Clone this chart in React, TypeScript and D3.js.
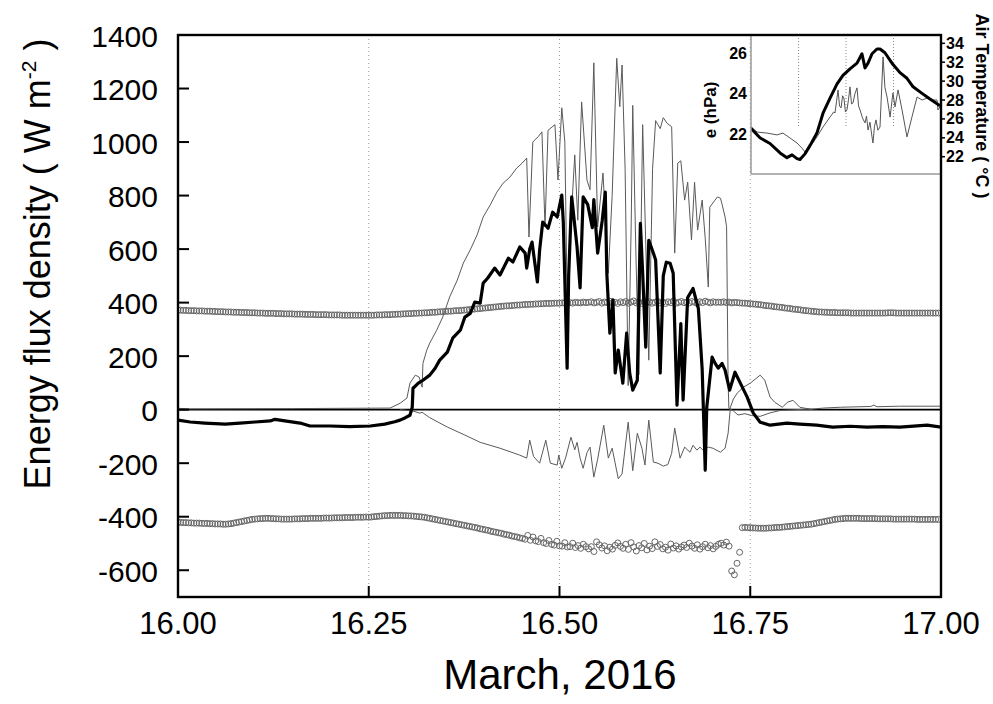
import React from 'react';
import * as d3 from 'd3';

// ---------- axis / tick data ----------
const xTickValues = [16.0, 16.25, 16.5, 16.75, 17.0];
const xTickLabels = ['16.00', '16.25', '16.50', '16.75', '17.00'];
const yTickValues = [-600, -400, -200, 0, 200, 400, 600, 800, 1000, 1200, 1400];
const gridDays = [16.25, 16.5, 16.75];
const insetETicks = [22, 24, 26];
const insetTTicks = [22, 24, 26, 28, 30, 32, 34];

// ---------- main series (day, W m-2) ----------
const thickFlux: [number, number][] = [
  [16.000, -39], [16.016, -46], [16.035, -50], [16.062, -54], [16.081, -50], [16.101, -46],
  [16.121, -42], [16.127, -36], [16.140, -42], [16.160, -50], [16.173, -61], [16.199, -61],
  [16.225, -63], [16.252, -61], [16.271, -54], [16.284, -45], [16.291, -39], [16.298, -30],
  [16.304, -21], [16.307, 9], [16.308, 80], [16.315, 99], [16.321, 110], [16.330, 129],
  [16.337, 155], [16.343, 185], [16.353, 215], [16.360, 267], [16.370, 297], [16.376, 346],
  [16.383, 360], [16.389, 402], [16.396, 398], [16.400, 473], [16.406, 492], [16.415, 529],
  [16.422, 503], [16.433, 566], [16.439, 552], [16.448, 608], [16.455, 585], [16.457, 529],
  [16.461, 600], [16.464, 626], [16.471, 477], [16.474, 597], [16.478, 701], [16.485, 678],
  [16.491, 738], [16.497, 720], [16.503, 802], [16.505, 700], [16.510, 155], [16.512, 500],
  [16.516, 795], [16.523, 608], [16.527, 455], [16.531, 795], [16.537, 766], [16.543, 680],
  [16.545, 785], [16.550, 585], [16.556, 707], [16.560, 813], [16.562, 510], [16.566, 286],
  [16.570, 410], [16.573, 137], [16.577, 223], [16.583, 99], [16.588, 286], [16.592, 137],
  [16.596, 73], [16.602, 110], [16.606, 696], [16.609, 510], [16.613, 234], [16.617, 633],
  [16.623, 585], [16.626, 559], [16.632, 137], [16.636, 500], [16.640, 551], [16.645, 547],
  [16.649, 510], [16.654, 17], [16.659, 322], [16.662, 36], [16.668, 419], [16.675, 453],
  [16.682, 378], [16.687, 150], [16.691, -226], [16.693, 9], [16.700, 196], [16.704, 173],
  [16.708, 155], [16.713, 173], [16.717, 148], [16.723, 73], [16.730, 140], [16.737, 99],
  [16.746, 47], [16.754, -13], [16.763, -47], [16.776, -58], [16.798, -50], [16.815, -54],
  [16.837, -58], [16.858, -65], [16.881, -62], [16.903, -65], [16.924, -63], [16.946, -65],
  [16.982, -58], [17.000, -65],
];

const thinUpper: [number, number][] = [
  [16.000, 5], [16.016, 3], [16.150, 4], [16.278, 6], [16.291, 24], [16.300, 43], [16.304, 99],
  [16.311, 129], [16.316, 122], [16.320, 84], [16.321, 173], [16.326, 222], [16.330, 249],
  [16.339, 297], [16.347, 346], [16.356, 421], [16.366, 484], [16.374, 548], [16.383, 597],
  [16.392, 653], [16.400, 720], [16.409, 764], [16.418, 813], [16.426, 846], [16.435, 869],
  [16.444, 903], [16.451, 921], [16.457, 940], [16.460, 645], [16.465, 1000], [16.472, 1020],
  [16.477, 1038], [16.481, 683], [16.485, 1044], [16.494, 1065], [16.498, 858], [16.503, 1128],
  [16.507, 1000], [16.510, 410], [16.515, 700], [16.520, 952], [16.524, 708], [16.529, 1150],
  [16.536, 858], [16.540, 822], [16.545, 1296], [16.550, 683], [16.557, 884], [16.564, 510],
  [16.569, 800], [16.575, 1313], [16.579, 1132], [16.582, 1288], [16.586, 900], [16.590, 90],
  [16.594, 700], [16.596, 1137], [16.600, 600], [16.604, 130], [16.609, 1065], [16.617, 185],
  [16.622, 900], [16.626, 1080], [16.632, 1050], [16.636, 1091], [16.641, 1070], [16.647, 1057],
  [16.651, 585], [16.655, 921], [16.659, 930], [16.664, 783], [16.668, 850], [16.673, 634],
  [16.677, 850], [16.681, 671], [16.687, 783], [16.691, 640], [16.695, 458], [16.697, 757],
  [16.703, 780], [16.707, 795], [16.711, 790], [16.713, 768], [16.717, 720], [16.719, 683],
  [16.721, 100], [16.722, 5], [16.728, -5], [16.734, -20], [16.743, -15], [16.752, -22],
  [16.763, -25], [16.776, -12], [16.789, -3], [16.809, 0], [16.835, 3], [16.846, 6],
  [16.868, 9], [16.908, 12], [16.912, 17], [16.916, 11], [16.946, 13], [17.000, 13],
];

const thinLower: [number, number][] = [
  [16.291, 0], [16.308, -5], [16.317, -13], [16.320, -10], [16.330, -30], [16.353, -65],
  [16.376, -95], [16.396, -122], [16.422, -144], [16.448, -170], [16.457, -181], [16.461, -114],
  [16.466, -175], [16.474, -200], [16.482, -114], [16.488, -200], [16.497, -207], [16.499, -170],
  [16.503, -219], [16.508, -180], [16.515, -103], [16.520, -150], [16.523, -122], [16.527, -181],
  [16.531, -219], [16.536, -161], [16.540, -140], [16.545, -252], [16.550, -185], [16.558, -58],
  [16.564, -181], [16.569, -144], [16.577, -258], [16.582, -240], [16.590, -47], [16.596, -228],
  [16.602, -88], [16.608, -144], [16.612, -207], [16.617, -39], [16.623, -196], [16.629, -200],
  [16.636, -211], [16.642, -205], [16.647, -163], [16.651, -69], [16.658, -181], [16.664, -140],
  [16.671, -159], [16.675, -133], [16.680, -151], [16.684, -140], [16.688, -151], [16.695, -140],
  [16.701, -144], [16.711, -159], [16.717, -144], [16.721, -88], [16.724, 9], [16.728, 40],
  [16.733, 62], [16.741, 84], [16.750, 99], [16.763, 129], [16.769, 110], [16.776, 47],
  [16.782, 28], [16.792, 9], [16.799, 28], [16.806, 35], [16.815, 9], [16.832, 0],
];

// 5-minute circle series (one row per hour, 12 values)
const upperCircles: number[] = [
  372, 372, 371, 371, 370, 370, 370, 369, 369, 369, 368, 368,
  368, 367, 367, 366, 366, 366, 365, 365, 365, 364, 364, 364,
  363, 363, 363, 362, 362, 362, 361, 361, 361, 360, 360, 360,
  360, 359, 359, 359, 358, 358, 358, 358, 357, 357, 357, 357,
  356, 356, 356, 356, 355, 355, 355, 355, 355, 354, 354, 354,
  354, 354, 353, 353, 353, 353, 353, 353, 353, 353, 353, 353,
  353, 353, 353, 354, 354, 354, 355, 355, 355, 356, 356, 357,
  357, 358, 358, 359, 359, 360, 360, 361, 361, 362, 362, 363,
  364, 364, 365, 366, 366, 367, 368, 368, 369, 370, 370, 371,
  372, 373, 374, 375, 376, 377, 378, 379, 380, 381, 382, 383,
  384, 385, 386, 387, 388, 388, 389, 390, 391, 391, 392, 393,
  393, 394, 394, 395, 395, 396, 396, 397, 397, 397, 398, 398,
  398, 399, 399, 399, 400, 398, 401, 400, 399, 402, 400, 401,
  403, 399, 401, 404, 398, 402, 400, 405, 399, 401, 397, 403,
  400, 404, 398, 402, 406, 399, 401, 397, 404, 400, 403, 398,
  401, 405, 399, 402, 397, 403, 400, 406, 398, 401, 404, 400,
  402, 399, 404, 401, 397, 403, 400, 405, 402, 399, 403, 401,
  402, 401, 403, 400, 402, 399, 401, 400, 399, 398, 398, 397,
  396, 395, 394, 393, 392, 390, 389, 388, 387, 385, 384, 383,
  382, 380, 379, 378, 376, 375, 374, 373, 371, 370, 369, 368,
  367, 366, 365, 365, 364, 364, 363, 363, 363, 362, 362, 362,
  362, 362, 361, 361, 361, 361, 361, 361, 361, 361, 361, 361,
  361, 361, 361, 361, 362, 362, 362, 361, 361, 361, 361, 361,
  361, 361, 361, 361, 361, 361, 361, 361, 361, 361, 361, 361,
];

const lowerCircles: number[] = [
  -421, -421, -422, -422, -423, -423, -424, -424, -424, -425, -425, -425,
  -426, -426, -427, -427, -427, -428, -428, -427, -426, -424, -422, -420,
  -418, -416, -414, -412, -410, -409, -408, -407, -407, -406, -406, -407,
  -407, -408, -408, -409, -409, -409, -409, -409, -408, -408, -408, -407,
  -407, -407, -406, -406, -406, -406, -406, -405, -405, -405, -405, -404,
  -404, -404, -404, -403, -403, -403, -403, -402, -402, -402, -402, -401,
  -402, -401, -400, -399, -398, -397, -396, -396, -395, -395, -395, -395,
  -395, -396, -396, -397, -397, -398, -399, -400, -401, -402, -404, -406,
  -408, -410, -412, -414, -416, -418, -420, -422, -424, -426, -428, -430,
  -432, -434, -436, -438, -440, -442, -445, -447, -449, -451, -454, -456,
  -458, -460, -462, -465, -467, -469, -472, -474, -476, -479, -481, -484,
  -470, -488, -476, -490, -493, -481, -497, -500, -489, -503, -506, -492,
  -509, -510, -497, -513, -512, -499, -515, -508, -518, -503, -512, -520,
  -512, -530, -494, -505, -517, -509, -527, -514, -521, -507, -498, -511,
  -518, -503, -522, -497, -513, -528, -508, -516, -500, -524, -510, -519,
  -494, -511, -504, -520, -514, -525, -502, -517, -509, -521, -513, -506,
  -515, -499, -510, -518, -505, -521, -512, -503, -516, -508, -520, -511,
  -503, -499, -506, -495, -510, -603, -617, -574, -533, -441, -440, -441,
  -441, -442, -442, -443, -443, -443, -443, -442, -442, -441, -440, -440,
  -439, -438, -437, -436, -435, -434, -433, -432, -431, -430, -429, -428,
  -426, -424, -422, -420, -418, -416, -414, -412, -410, -409, -408, -407,
  -406, -406, -406, -406, -406, -406, -407, -407, -407, -407, -407, -407,
  -408, -408, -408, -408, -408, -408, -409, -409, -409, -409, -409, -409,
  -409, -409, -409, -410, -410, -410, -410, -410, -410, -410, -410, -410,
];

// ---------- inset series ----------
const insetTemp: [number, number][] = [
  [16.000, 25.0], [16.047, 24.0], [16.100, 23.4], [16.153, 22.4], [16.189, 21.9], [16.216, 22.2],
  [16.242, 21.8], [16.258, 21.7], [16.284, 22.3], [16.311, 23.2], [16.347, 24.5], [16.379, 26.6],
  [16.416, 28.2], [16.453, 29.7], [16.484, 30.6], [16.521, 31.3], [16.558, 31.9], [16.584, 32.9],
  [16.600, 31.4], [16.616, 31.9], [16.637, 32.9], [16.663, 33.4], [16.679, 33.4], [16.705, 33.0],
  [16.742, 31.9], [16.784, 30.9], [16.821, 30.3], [16.853, 29.4], [16.900, 28.7], [16.942, 28.1],
  [16.979, 27.6], [16.995, 27.4],
];

const insetE: [number, number][] = [
  [16.000, 22.36], [16.032, 22.11], [16.084, 22.06], [16.137, 21.97], [16.168, 22.06], [16.205, 21.82],
  [16.242, 21.57], [16.268, 21.32], [16.284, 21.13], [16.311, 21.37], [16.347, 21.87], [16.379, 22.36],
  [16.416, 22.85], [16.435, 23.10], [16.442, 23.05], [16.450, 23.60], [16.458, 24.19], [16.466, 23.40],
  [16.474, 23.30], [16.482, 23.90], [16.489, 23.79], [16.497, 23.10], [16.505, 23.20], [16.513, 23.70],
  [16.521, 24.34], [16.529, 23.50], [16.537, 23.55], [16.547, 24.00], [16.558, 24.29], [16.566, 23.40],
  [16.574, 23.20], [16.587, 22.80], [16.600, 22.56], [16.608, 22.90], [16.616, 22.21], [16.626, 22.60],
  [16.637, 21.87], [16.642, 21.57], [16.650, 22.40], [16.658, 22.71], [16.668, 22.20], [16.679, 22.36],
  [16.695, 25.82], [16.705, 24.30], [16.716, 23.84], [16.732, 22.85], [16.747, 24.04], [16.758, 23.35],
  [16.774, 24.19], [16.795, 23.20], [16.821, 21.87], [16.847, 22.85], [16.874, 23.84], [16.900, 23.69],
  [16.926, 23.79], [16.953, 23.69], [16.979, 23.69], [16.984, 23.20], [17.000, 23.44],
];

const FONT = "'Liberation Sans', Arial, sans-serif";

export default function App() {
  const L = 178, R = 941, T = 35, B = 597;
  const x = d3.scaleLinear().domain([16, 17]).range([L, R]);
  const y = d3.scaleLinear().domain([-700, 1400]).range([B, T]);

  const IL = 751, IR = 941, IT = 35, IB = 174;
  const xi = d3.scaleLinear().domain([16, 17]).range([IL, IR]);
  const ye = d3.scaleLinear().domain([20.04, 26.9]).range([IB, IT]);
  const yt = d3.scaleLinear().domain([20.17, 34.88]).range([IB, IT]);

  const line = d3.line<[number, number]>().x(d => x(d[0])).y(d => y(d[1]));
  const lineT = d3.line<[number, number]>().x(d => xi(d[0])).y(d => yt(d[1]));
  const lineE = d3.line<[number, number]>().x(d => xi(d[0])).y(d => ye(d[1]));

  const tOf = (i: number) => 16 + i / 288;

  return (
    <svg width={993} height={704} style={{ position: 'absolute', left: 0, top: 0, background: '#fff' }}
      fontFamily={FONT}>
      <defs>
        <clipPath id="mainClip"><rect x={L} y={T} width={R - L} height={B - T} /></clipPath>
        <clipPath id="insetClip"><rect x={IL} y={IT} width={IR - IL} height={IB - IT} /></clipPath>
      </defs>
      <rect x={0} y={0} width={993} height={704} fill="#fff" />

      {/* grid */}
      {gridDays.map(d => (
        <line key={'g' + d} x1={x(d)} x2={x(d)} y1={T} y2={B} stroke="#9a9a9a" strokeWidth={1} strokeDasharray="1,3" />
      ))}

      <g clipPath="url(#mainClip)">
        {/* circles */}
        {upperCircles.map((v, i) => (
          <circle key={'u' + i} cx={x(tOf(i))} cy={y(v)} r={3} fill="none" stroke="#666" strokeWidth={1} />
        ))}
        {lowerCircles.map((v, i) => (
          <circle key={'l' + i} cx={x(tOf(i))} cy={y(v)} r={3} fill="none" stroke="#666" strokeWidth={1} />
        ))}
        {/* zero line */}
        <line x1={L} x2={R} y1={y(0)} y2={y(0)} stroke="#000" strokeWidth={1.6} />
        <path d={line(thinUpper) || ''} fill="none" stroke="#5a5a5a" strokeWidth={1} />
        <path d={line(thinLower) || ''} fill="none" stroke="#5a5a5a" strokeWidth={1} />
        <path d={line(thickFlux) || ''} fill="none" stroke="#000" strokeWidth={3.2} strokeLinejoin="round" />
      </g>

      {/* inset */}
      <rect x={IL} y={IT} width={IR - IL} height={IB - IT} fill="#fff" />
      {gridDays.map(d => (
        <line key={'ig' + d} x1={xi(d)} x2={xi(d)} y1={IT} y2={128} stroke="#8a8a8a" strokeWidth={1} strokeDasharray="1,2" />
      ))}
      <g clipPath="url(#insetClip)">
        <path d={lineE(insetE) || ''} fill="none" stroke="#555" strokeWidth={1} />
        <path d={lineT(insetTemp) || ''} fill="none" stroke="#000" strokeWidth={3} strokeLinejoin="round" />
      </g>
      <line x1={IL} x2={IL} y1={IT} y2={IB} stroke="#999" strokeWidth={1.5} />
      <line x1={IL} x2={IR} y1={IB} y2={IB} stroke="#999" strokeWidth={1.5} />
      {insetETicks.map(v => (
        <text key={'et' + v} x={747} y={ye(v)} textAnchor="end" dominantBaseline="central"
          fontSize={16} fontWeight="bold">{v}</text>
      ))}
      {insetTTicks.map(v => (
        <g key={'tt' + v}>
          <line x1={R} x2={R + 4} y1={yt(v)} y2={yt(v)} stroke="#000" strokeWidth={1.5} />
          <text x={946} y={yt(v)} textAnchor="start" dominantBaseline="central" fontSize={16} fontWeight="bold">{v}</text>
        </g>
      ))}
      <text transform="translate(716,110) rotate(-90)" textAnchor="middle" fontSize={17} fontWeight="bold">e (hPa)</text>
      <text transform="translate(976,106) rotate(90)" textAnchor="middle" fontSize={18} fontWeight="bold">Air Temperature ( °C )</text>

      {/* main frame */}
      <rect x={L} y={T} width={R - L} height={B - T} fill="none" stroke="#000" strokeWidth={2.4} />

      {/* y ticks */}
      {yTickValues.map(v => (
        <g key={'y' + v}>
          {v < 1400 && <line x1={L} x2={L + 11} y1={y(v)} y2={y(v)} stroke="#000" strokeWidth={2} />}
          <text x={158} y={y(v) + 1} textAnchor="end" dominantBaseline="central" fontSize={30}>{v}</text>
        </g>
      ))}
      {/* x ticks */}
      {xTickValues.map((v, i) => (
        <g key={'x' + v}>
          {v > 16 && v < 17 && <line x1={x(v)} x2={x(v)} y1={B} y2={B - 11} stroke="#000" strokeWidth={2} />}
          <text x={x(v)} y={634} textAnchor="middle" fontSize={31}>{xTickLabels[i]}</text>
        </g>
      ))}

      {/* axis titles */}
      <text x={560} y={689} textAnchor="middle" fontSize={42}>March, 2016</text>
      <text transform="translate(50,264) rotate(-90)" textAnchor="middle" fontSize={36}>
        Energy flux density ( W m<tspan dy={-14} fontSize={21}>-2</tspan><tspan dy={14}> )</tspan>
      </text>
    </svg>
  );
}
